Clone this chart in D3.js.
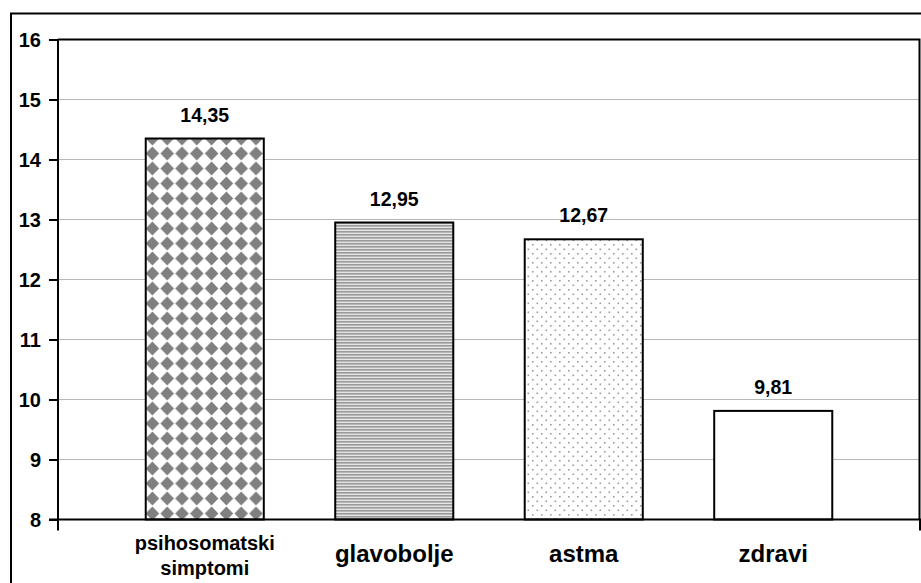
<!DOCTYPE html>
<html>
<head>
<meta charset="utf-8">
<script src="https://cdn.jsdelivr.net/npm/d3@7"></script>
<style>
  body { margin: 0; background: #fff; }
  text { font-family: "Liberation Sans", Arial, sans-serif; font-weight: bold; fill: #000; }
</style>
</head>
<body>
<svg id="chart" width="921" height="583"></svg>
<script>
// data
const categories = ['psihosomatski simptomi', 'glavobolje', 'astma', 'zdravi'];
const labelLines = [['psihosomatski', 'simptomi'], ['glavobolje'], ['astma'], ['zdravi']];
const values = [14.35, 12.95, 12.67, 9.81];
const yTicks = [8, 9, 10, 11, 12, 13, 14, 15, 16];
const fills = ['url(#diamonds)', 'url(#hlines)', 'url(#dots)', '#fff'];

const svg = d3.select('#chart');
const plotLeft = 58, plotRight = 920, plotTop = 39.5, plotBottom = 519.5;

// decimal comma, as in the original
const fmt = v => d3.format('.2f')(v).replace('.', ',');

// patterns
const defs = svg.append('defs');

const dia = defs.append('pattern')
  .attr('id', 'diamonds')
  .attr('patternUnits', 'userSpaceOnUse')
  .attr('width', 14.8).attr('height', 15)
  .attr('x', 145).attr('y', 131);
dia.append('rect').attr('width', 14.8).attr('height', 15).attr('fill', '#fff');
dia.append('polygon')
  .attr('points', '7.4,0.6 14.2,7.5 7.4,14.4 0.6,7.5')
  .attr('fill', '#808080');

const hl = defs.append('pattern')
  .attr('id', 'hlines')
  .attr('patternUnits', 'userSpaceOnUse')
  .attr('width', 6).attr('height', 3);
hl.append('rect').attr('width', 6).attr('height', 3).attr('fill', '#e4e4e4');
hl.append('rect').attr('width', 6).attr('height', 1.6).attr('fill', '#9a9a9a');

const dt = defs.append('pattern')
  .attr('id', 'dots')
  .attr('patternUnits', 'userSpaceOnUse')
  .attr('width', 9).attr('height', 9);
dt.append('rect').attr('width', 9).attr('height', 9).attr('fill', '#fff');
dt.append('rect').attr('x', 1).attr('y', 1).attr('width', 1.6).attr('height', 1.6).attr('fill', '#9c9c9c');
dt.append('rect').attr('x', 5.5).attr('y', 5.5).attr('width', 1.6).attr('height', 1.6).attr('fill', '#9c9c9c');

// outer chart border (runs off the right / bottom edge like the original)
svg.append('rect')
  .attr('x', 11).attr('y', 13.5)
  .attr('width', 930).attr('height', 600)
  .attr('fill', '#fff')
  .attr('stroke', '#000')
  .attr('stroke-width', 2);

// scales
const x = d3.scaleBand()
  .domain(categories)
  .range([plotLeft, plotRight])
  .paddingInner(0.377)
  .paddingOuter(0.463);

const y = d3.scaleLinear()
  .domain([8, 16])
  .range([plotBottom, plotTop]);

// gridlines
svg.append('g')
  .selectAll('line')
  .data(yTicks.filter(t => t > 8 && t < 16))
  .enter()
  .append('line')
  .attr('x1', plotLeft).attr('x2', plotRight)
  .attr('y1', d => y(d)).attr('y2', d => y(d))
  .attr('stroke', '#b8b8b8')
  .attr('stroke-width', 1.2);

// plot area top and right border
svg.append('path')
  .attr('d', `M${plotLeft},${plotTop} H${plotRight - 0.5} V${plotBottom}`)
  .attr('fill', 'none')
  .attr('stroke', '#000')
  .attr('stroke-width', 2);

// bars
svg.append('g')
  .selectAll('rect')
  .data(values)
  .enter()
  .append('rect')
  .attr('x', (d, i) => x(categories[i]))
  .attr('y', d => y(d))
  .attr('width', x.bandwidth())
  .attr('height', d => y(8) - y(d))
  .attr('fill', (d, i) => fills[i])
  .attr('stroke', '#000')
  .attr('stroke-width', 2);

// value labels
svg.append('g')
  .selectAll('text')
  .data(values)
  .enter()
  .append('text')
  .attr('x', (d, i) => x(categories[i]) + x.bandwidth() / 2)
  .attr('y', d => y(d) - 17)
  .attr('text-anchor', 'middle')
  .attr('font-size', 19.5)
  .text(d => fmt(d));

// y axis
const yAxis = d3.axisLeft(y)
  .tickValues(yTicks)
  .tickSize(9)
  .tickPadding(8)
  .tickFormat(d3.format('d'));

const ya = svg.append('g')
  .attr('transform', `translate(${plotLeft},0)`)
  .call(yAxis);
ya.select('.domain').remove();
ya.selectAll('line').attr('stroke', '#000').attr('stroke-width', 2);
ya.selectAll('text')
  .attr('font-size', 20)
  .attr('font-family', '"Liberation Sans", Arial, sans-serif')
  .attr('font-weight', 'bold')
  .attr('fill', '#000')
  .attr('dy', null)
  .attr('y', 7);
svg.append('line')
  .attr('x1', plotLeft).attr('x2', plotLeft)
  .attr('y1', plotTop).attr('y2', plotBottom + 11)
  .attr('stroke', '#000').attr('stroke-width', 2);

// x axis line with end ticks
svg.append('line')
  .attr('x1', plotLeft - 9).attr('x2', plotRight + 2)
  .attr('y1', plotBottom).attr('y2', plotBottom)
  .attr('stroke', '#000').attr('stroke-width', 2);
svg.append('line')
  .attr('x1', plotRight).attr('x2', plotRight)
  .attr('y1', plotBottom).attr('y2', plotBottom + 11)
  .attr('stroke', '#000').attr('stroke-width', 2);

// category labels
const cl = svg.append('g')
  .selectAll('text')
  .data(categories)
  .enter()
  .append('text')
  .attr('text-anchor', 'middle')
  .attr('font-size', (d, i) => labelLines[i].length > 1 ? 20 : 24)
  .attr('x', d => x(d) + x.bandwidth() / 2)
  .attr('y', (d, i) => labelLines[i].length > 1 ? 550 : 562);

cl.each(function(d, i) {
  const t = d3.select(this);
  labelLines[i].forEach((line, k) => {
    t.append('tspan')
      .attr('x', x(d) + x.bandwidth() / 2)
      .attr('dy', k === 0 ? 0 : 25)
      .text(line);
  });
});
</script>
</body>
</html>
